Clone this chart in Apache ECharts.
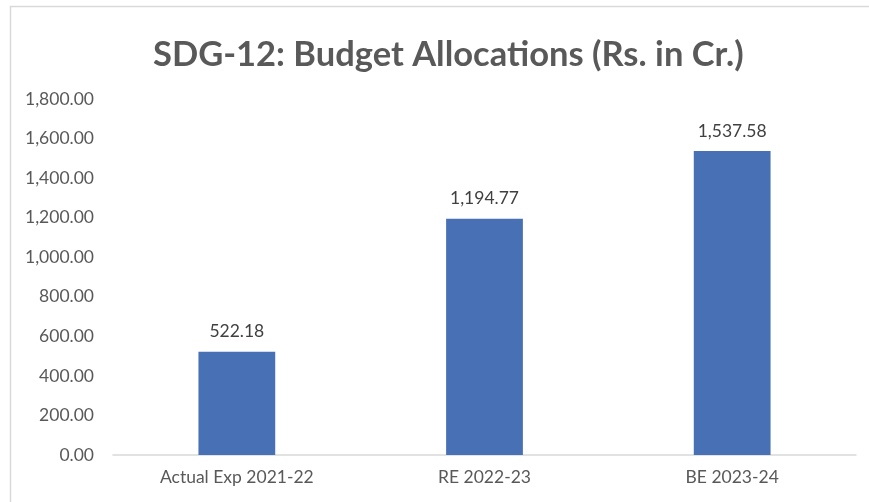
<!DOCTYPE html>
<html><head><meta charset="utf-8">
<script src="https://cdn.jsdelivr.net/npm/echarts@6/dist/echarts.min.js"></script>
<style>html,body{margin:0;padding:0;background:#fff}#c{width:869px;height:502px}</style>
</head><body><div id="c"></div>
<script>
const categories = ["Actual Exp 2021-22", "RE 2022-23", "BE 2023-24"];
const values = [522.18, 1194.77, 1537.58];
const yTicks = {min: 0, max: 1800, interval: 200};
const fmt = v => v.toLocaleString('en-US', {minimumFractionDigits: 2, maximumFractionDigits: 2});
const font = 'Lato, "Open Sans", sans-serif';
const chart = echarts.init(document.getElementById('c'), null, {renderer: 'canvas'});
chart.setOption({
  animation: false,
  graphic: [{type: 'rect', shape: {x: 10.5, y: 6.5, width: 900, height: 600}, style: {fill: 'none', stroke: '#d9d9d9', lineWidth: 1.5}, silent: true}],
  title: {text: 'SDG-12: Budget Allocations (Rs. in Cr.)', left: 148, top: 32,
    textStyle: {fontFamily: font, fontSize: 34.5, fontWeight: 'bold', color: '#595959'}},
  grid: {left: 113, right: 13, top: 99, bottom: 47, containLabel: false},
  xAxis: {type: 'category', data: categories,
    axisLine: {lineStyle: {color: '#d9d9d9', width: 1.5}}, axisTick: {show: false},
    axisLabel: {fontFamily: font, fontSize: 17.5, color: '#595959', margin: 13}},
  yAxis: {type: 'value', min: yTicks.min, max: yTicks.max, interval: yTicks.interval,
    splitLine: {show: false}, axisLine: {show: false}, axisTick: {show: false},
    axisLabel: {fontFamily: font, fontSize: 17.5, color: '#595959', margin: 19, formatter: fmt}},
  series: [{type: 'bar', data: values, barWidth: '31%',
    itemStyle: {color: '#4870B5'},
    label: {show: true, position: 'top', distance: 11, fontFamily: font, fontSize: 17.5, color: '#404040', formatter: p => fmt(p.value)}}]
});
</script></body></html>
